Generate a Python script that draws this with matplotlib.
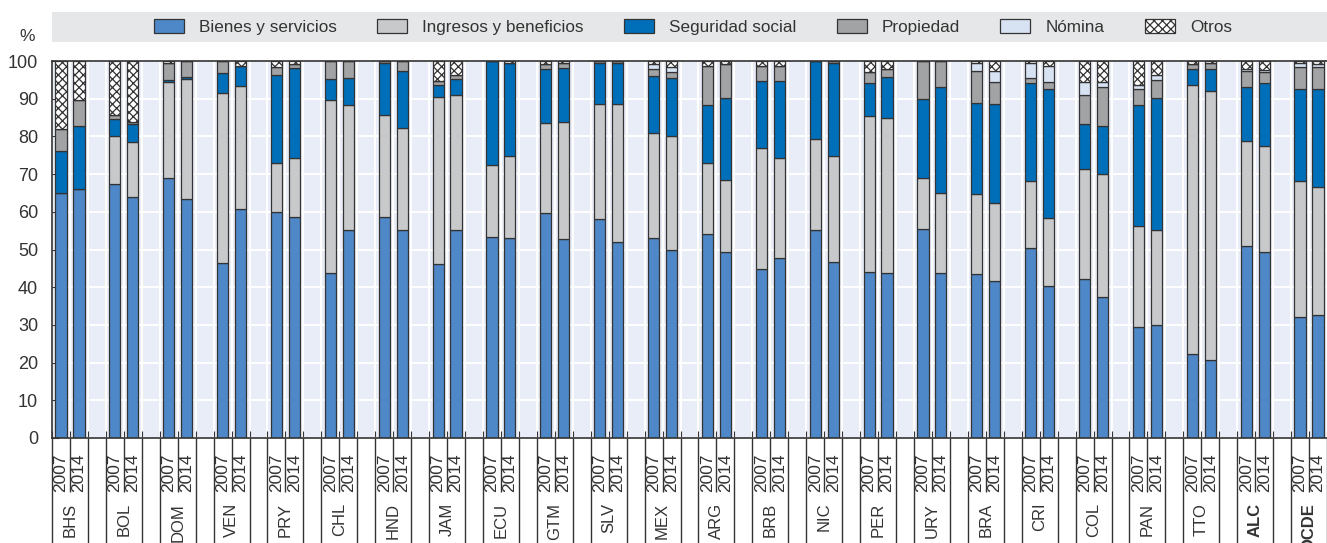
import matplotlib
matplotlib.use("Agg")
import matplotlib.pyplot as plt
from matplotlib.patches import Rectangle

plt.rcParams["font.family"] = ["Liberation Sans", "DejaVu Sans"]
plt.rcParams["hatch.linewidth"] = 0.9

countries = ["BHS", "BOL", "DOM", "VEN", "PRY", "CHL", "HND", "JAM", "ECU", "GTM", "SLV", "MEX",
             "ARG", "BRB", "NIC", "PER", "URY", "BRA", "CRI", "COL", "PAN", "TTO", "ALC", "OCDE"]
years = ["2007", "2014"]
bold_labels = ["ALC", "OCDE"]

# shares in %, two values per country: 2007, 2014
bienes = [65.0, 66.0, 67.5, 64.0, 69.0, 63.4, 46.5, 60.7, 60.0, 58.6, 43.8, 55.3,
          58.6, 55.2, 46.2, 55.1, 53.2, 53.0, 59.8, 52.9, 58.0, 52.0, 53.0, 49.8,
          54.2, 49.4, 44.7, 47.8, 55.1, 46.6, 44.1, 43.8, 55.4, 43.8, 43.4, 41.6,
          50.3, 40.3, 42.2, 37.3, 29.4, 29.9, 22.3, 20.7, 51.0, 49.4, 32.1, 32.6]
ingresos = [0.0, 0.0, 12.5, 14.4, 25.5, 31.8, 45.1, 32.7, 12.9, 15.7, 45.9, 33.0,
            27.2, 26.9, 44.3, 35.9, 19.3, 21.7, 23.8, 30.9, 30.5, 36.7, 27.8, 30.3,
            18.7, 19.0, 32.1, 26.6, 24.2, 28.3, 41.3, 41.0, 13.6, 21.2, 21.2, 20.7,
            17.9, 18.1, 29.2, 32.7, 26.8, 25.2, 71.3, 71.3, 27.7, 28.0, 36.2, 33.9]
seguridad = [11.0, 16.7, 4.5, 4.8, 0.5, 0.5, 5.3, 5.2, 23.4, 23.8, 5.4, 7.3,
             13.6, 15.3, 3.1, 4.1, 27.5, 24.7, 14.2, 14.3, 10.9, 10.7, 15.3, 15.5,
             15.5, 21.7, 17.9, 20.3, 20.7, 24.5, 8.7, 11.0, 20.9, 28.2, 24.2, 26.2,
             25.9, 34.2, 11.8, 12.7, 32.1, 35.2, 4.3, 5.9, 14.3, 16.7, 24.4, 26.1]
propiedad = [6.0, 6.9, 1.3, 0.6, 4.4, 4.3, 3.1, 0.0, 2.0, 1.1, 4.9, 4.4,
             0.6, 2.6, 1.1, 1.3, 0.0, 0.0, 1.3, 1.3, 0.6, 0.6, 1.7, 1.4,
             10.3, 9.0, 4.1, 4.1, 0.0, 0.6, 3.1, 2.0, 10.1, 6.8, 8.5, 5.8,
             1.3, 1.7, 7.9, 10.3, 4.4, 4.7, 1.4, 1.5, 4.3, 3.1, 5.8, 5.7]
nomina = [0.0, 0.0, 0.0, 0.0, 0.0, 0.0, 0.0, 0.0, 0.0, 0.0, 0.0, 0.0,
          0.0, 0.0, 0.0, 0.0, 0.0, 0.0, 0.0, 0.0, 0.0, 0.0, 1.3, 1.5,
          0.0, 0.0, 0.0, 0.0, 0.0, 0.0, 0.0, 0.0, 0.0, 0.0, 2.1, 3.0,
          4.0, 4.5, 3.4, 1.5, 1.0, 1.3, 0.0, 0.0, 0.5, 0.3, 1.0, 1.0]
otros = [18.0, 10.4, 14.2, 16.2, 0.6, 0.0, 0.0, 1.4, 1.7, 0.8, 0.0, 0.0,
         0.0, 0.0, 5.3, 3.6, 0.0, 0.6, 0.9, 0.6, 0.0, 0.0, 0.9, 1.5,
         1.3, 0.9, 1.2, 1.2, 0.0, 0.0, 2.8, 2.2, 0.0, 0.0, 0.6, 2.7,
         0.6, 1.2, 5.5, 5.5, 6.3, 3.7, 0.7, 0.6, 2.2, 2.5, 0.5, 0.7]

series = [
    ("Bienes y servicios", bienes, "#4F88C8", None),
    ("Ingresos y beneficios", ingresos, "#C8C9CB", None),
    ("Seguridad social", seguridad, "#006FBA", None),
    ("Propiedad", propiedad, "#A2A3A5", None),
    ("Nómina", nomina, "#D7E2F3", None),
    ("Otros", otros, "white", "xxxx"),
]

text_color = "#333333"
line_color = "#333333"

W, H = 1327, 543
fig = plt.figure(figsize=(W / 100, H / 100), dpi=100)
ax = fig.add_axes([52 / W, 105 / H, 1275 / W, 377 / H])
ax.set_facecolor("#E9EDF7")

x = [3 * g + j for g in range(len(countries)) for j in range(len(years))]
bottom = [0.0] * len(x)
handles = []
for name, vals, color, hatch in series:
    bars = ax.bar(x, vals, 0.62, bottom=bottom, color=color, edgecolor=line_color,
                  linewidth=0.9, hatch=hatch, label=name, zorder=3)
    handles.append(bars)
    bottom = [b + v for b, v in zip(bottom, vals)]

ax.set_xlim(-0.5, 70.33)
ax.set_ylim(0, 100)
ax.set_yticks(range(0, 101, 10))
ax.set_xticks([k + 0.5 for k in range(-1, 71)])
ax.set_axisbelow(True)
ax.grid(True, color="white", linewidth=1.4)
ax.tick_params(axis="x", direction="in", length=5, color=line_color, labelbottom=False)
ax.tick_params(axis="y", direction="in", length=5, color=line_color, pad=10,
               labelsize=13, labelcolor=text_color)
ax.spines["right"].set_visible(False)
for side in ["top", "left", "bottom"]:
    ax.spines[side].set_color(line_color)
    ax.spines[side].set_linewidth(1.2)
    ax.spines[side].set_zorder(4)

# category axis below the plot
trans = ax.get_xaxis_transform()
long_lines = []
short_lines = []
for g in range(len(countries)):
    long_lines += [3 * g - 0.5, 3 * g + 1.5]
    short_lines.append(3 * g + 0.5)
ax.vlines(long_lines, -0.2785, 0, transform=trans, clip_on=False, color=line_color, linewidth=1)
ax.vlines(short_lines, -0.143, 0, transform=trans, clip_on=False, color=line_color, linewidth=1)
for g, name in enumerate(countries):
    for j, yr in enumerate(years):
        ax.text(3 * g + j, -0.040, yr, rotation=90, ha="center", va="top", transform=trans,
                fontsize=12.5, color=text_color)
    ax.text(3 * g + 0.5, -0.172, name, rotation=90, ha="center", va="top", transform=trans,
            fontsize=12, color=text_color,
            fontweight="bold" if name in bold_labels else "normal")

fig.text(27 / W, 1 - 36 / H, "%", ha="center", va="center", fontsize=12.5, color=text_color)

# legend strip
fig.patches.append(Rectangle((52 / W, 1 - 42 / H), 1275 / W, 30 / H, transform=fig.transFigure,
                             facecolor="#E6E7E8", edgecolor="none", zorder=0))
leg = fig.legend(handles, [s[0] for s in series], loc="center",
                 bbox_to_anchor=(693 / W, 1 - 27 / H), ncol=6, frameon=False,
                 fontsize=12.3, handlelength=1.75, handleheight=0.9, handletextpad=0.9,
                 columnspacing=2.35)
for t in leg.get_texts():
    t.set_color(text_color)

fig.savefig("out.png", dpi=100)
